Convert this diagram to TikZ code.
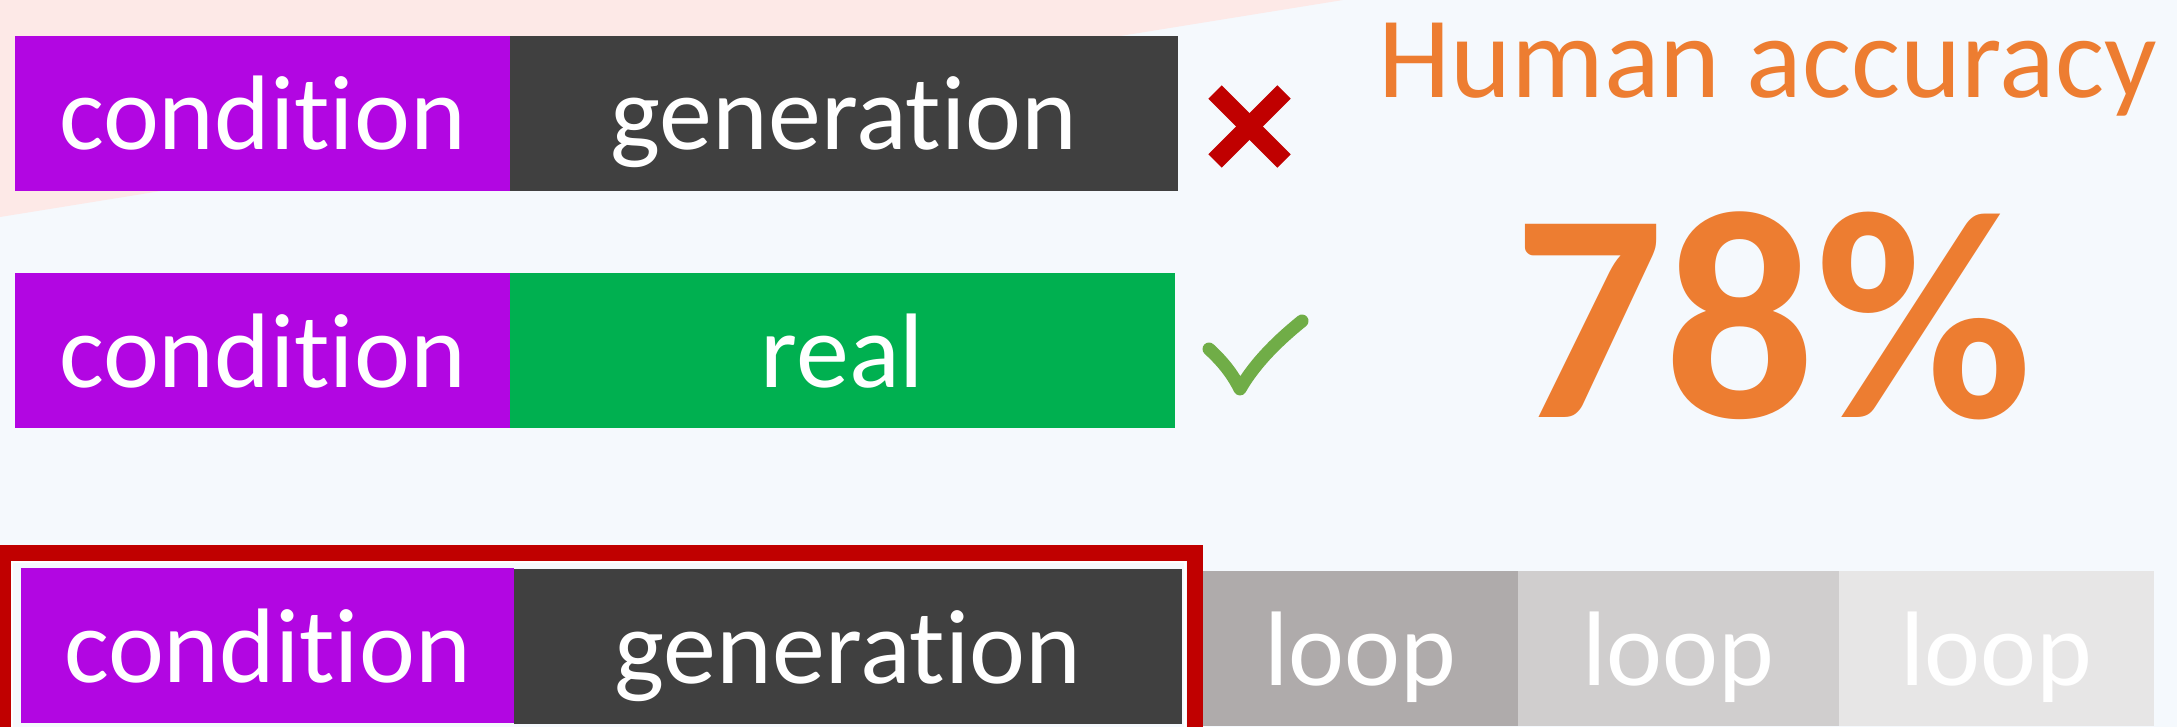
\documentclass[tikz,border=0pt]{standalone}
\usepackage{fontspec}
\setmainfont[Ligatures={NoCommon,NoDiscretionary,NoContextual}]{Carlito}
\definecolor{bgcol}{HTML}{F5F9FD}
\definecolor{pinkcol}{HTML}{FDE9E7}
\definecolor{purplecol}{HTML}{B206E2}
\definecolor{darkcol}{HTML}{404040}
\definecolor{greencol}{HTML}{00B050}
\definecolor{loopa}{HTML}{AFABAB}
\definecolor{loopb}{HTML}{D0CECE}
\definecolor{loopc}{HTML}{E7E6E6}
\definecolor{redcol}{HTML}{C00000}
\definecolor{checkcol}{HTML}{70AD47}
\definecolor{orangecol}{HTML}{ED7D31}
\tikzset{
  seg/.style={anchor=north west, inner sep=0pt, outer sep=0pt,
    minimum height=155pt, text=white,
    font=\fontsize{106}{120}\selectfont, text height=73pt, text depth=0pt},
}
\begin{document}
\begin{tikzpicture}[x=1pt,y=-1pt]
\useasboundingbox (0,0) rectangle (2177,727);
\clip (0,0) rectangle (2177,727);
\fill[bgcol] (0,0) rectangle (2177,727);
\fill[pinkcol] (0,0) -- (1343,0) -- (0,217) -- cycle;

% row 1
\node[seg, fill=purplecol, minimum width=495pt] (c1) at (15,36) {condition};
\node[seg, fill=darkcol, minimum width=668pt] (g1) at (510,36) {generation};
% cross
\draw[redcol, line width=19pt] (1215,92) -- (1284,161);
\draw[redcol, line width=19pt] (1284,92) -- (1215,161);

% row 2
\node[seg, fill=purplecol, minimum width=495pt] (c2) at (15,273) {condition};
\node[seg, fill=greencol, minimum width=665pt] (r2) at (510,273) {real};
% check
\draw[checkcol, line width=13pt, line cap=round, line join=round]
  (1209,349) .. controls (1222,361) and (1232,373) .. (1240,389)
  .. controls (1256,361) and (1281,338) .. (1302,321);

% row 3
\draw[redcol, line width=16pt] (3,760) -- (3,553) -- (1195,553) -- (1195,760);
\draw[white, line width=2pt] (12,760) -- (12,562) -- (1185,562) -- (1185,760);
\node[seg, fill=purplecol, minimum width=493pt] (c3) at (21,568) {condition};
\node[seg, fill=darkcol, minimum width=668pt] (g3) at (514,569) {generation};
\node[seg, fill=loopa, minimum width=315pt] (l1) at (1203,571) {loop};
\node[seg, fill=loopb, minimum width=321pt] (l2) at (1518,571) {loop};
\node[seg, fill=loopc, minimum width=315pt] (l3) at (1839,571) {loop};

% accuracy
\node[anchor=base west, inner sep=0pt, text=orangecol,
  font=\fontsize{116}{130}\selectfont] (ha) at (1378,98) {Human accuracy};
\node[anchor=base, inner sep=0pt, text=orangecol,
  font=\fontsize{298}{320}\selectfont\bfseries] (acc) at (1773,417) {78\%};
\end{tikzpicture}
\end{document}
